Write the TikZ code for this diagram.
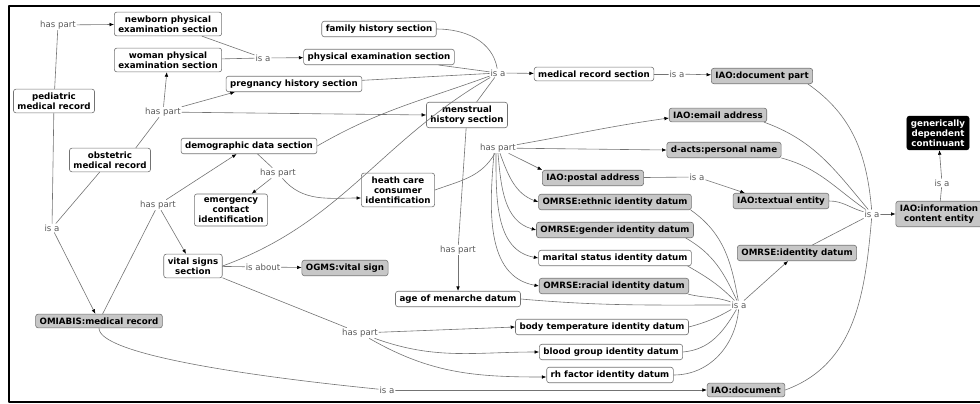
\documentclass[tikz,border=0pt]{standalone}
\usepackage{fontspec}
\setmainfont{DejaVu Sans}
\usetikzlibrary{arrows.meta}
\begin{document}
\begin{tikzpicture}[x=1pt,y=1pt,line join=round,line cap=round,>={Latex[length=4.5pt,width=3.6pt,color=black]},
	font=\fontsize{8.6}{10}\selectfont,
	cpt/.style={draw=black!55,line width=0.6pt,rounded corners=2.5pt,fill=white,font=\fontsize{8.7}{10}\selectfont\bfseries,align=center,inner xsep=4pt,inner ysep=3.5pt},
	ont/.style={cpt,fill=black!22},
	blk/.style={cpt,fill=black,draw=black,text=white},
	lnk/.style={text=black!65,inner sep=1pt},
	ln/.style={draw=black!55,line width=0.6pt}]
	\useasboundingbox (0,0) rectangle (980,-404);
	\draw[line width=2pt] (9,-6) rectangle (992,-402);
	% concepts
	\node[cpt] (ped) at (54,-101) {pediatric\\medical record};
	\node[cpt] (obs) at (110,-160) {obstetric\\medical record};
	\node[cpt] (newb) at (168,-24) {newborn physical\\examination section};
	\node[cpt] (woman) at (168,-60) {woman physical\\examination section};
	\node[cpt] (fam) at (379,-29) {family history section};
	\node[cpt] (phys) at (379,-57) {physical examination section};
	\node[cpt] (preg) at (294,-84) {pregnancy history section};
	\node[cpt] (demo) at (249,-146) {demographic data section};
	\node[cpt] (emerg) at (231,-210) {emergency\\contact\\identification};
	\node[cpt] (hcc) at (398,-190) {heath care\\consumer\\identification};
	\node[cpt] (menst) at (467,-115) {menstrual\\history section};
	\node[cpt] (mrs) at (594,-74) {medical record section};
	\node[ont] (docpart) at (762,-76) {IAO:document part};
	\node[ont] (email) at (718,-115) {IAO:email address};
	\node[ont] (pname) at (724,-150) {d-acts:personal name};
	\node[ont] (postal) at (593,-178) {IAO:postal address};
	\node[ont] (textual) at (781,-201) {IAO:textual entity};
	\node[ont] (ethnic) at (615,-202) {OMRSE:ethnic identity datum};
	\node[ont] (gender) at (615,-230) {OMRSE:gender identity datum};
	\node[cpt] (marital) at (615,-258) {marital status identity datum};
	\node[ont] (racial) at (614,-286) {OMRSE:racial identity datum};
	\node[ont] (idd) at (797,-253) {OMRSE:identity datum};
	\node[ont] (ice) at (939,-214) {IAO:information\\content entity};
	\node[blk] (gdc) at (938,-133) {generically\\dependent\\continuant};
	\node[cpt] (age) at (458,-299) {age of menarche datum};
	\node[cpt] (bodyt) at (602,-327) {body temperature identity datum};
	\node[cpt] (blood) at (611,-352) {blood group identity datum};
	\node[cpt] (rh) at (610,-375) {rh factor identity datum};
	\node[ont] (doc) at (746,-390) {IAO:document};
	\node[ont] (omiabis) at (99,-321) {OMIABIS:medical record};
	\node[cpt] (vital) at (193,-266) {vital signs\\section};
	\node[ont] (ogms) at (345,-268) {OGMS:vital sign};
	% linking phrases
	\node[lnk] (hp1) at (58,-25) {has part};
	\node[lnk] (isa1) at (263,-58) {is a};
	\node[lnk] (isa2) at (498,-73) {is a};
	\node[lnk] (isa3) at (677,-74) {is a};
	\node[lnk] (hp2) at (163,-112) {has part};
	\node[lnk] (hp3) at (498,-148) {has part};
	\node[lnk] (isa4) at (697,-177) {is a};
	\node[lnk] (isa5) at (872,-214) {is a};
	\node[lnk] (isa6) at (942,-183) {is a};
	\node[lnk] (isa7) at (739,-305) {is a};
	\node[lnk] (hp4) at (458,-250) {has part};
	\node[lnk] (isa8) at (52,-228) {is a};
	\node[lnk] (hp5) at (158,-205) {has part};
	\node[lnk] (hp6) at (278,-173) {has part};
	\node[lnk] (about) at (263,-267) {is about};
	\node[lnk] (hp7) at (360,-333) {has part};
	\node[lnk] (isa9) at (387,-390) {is a};
	% connectors
	\draw[ln] (ped) -- (hp1);
	\draw[ln,->] (hp1) -- (newb);
	\draw[ln] (newb) -- (isa1);
	\draw[ln] (woman) -- (isa1);
	\draw[ln,->] (isa1) -- (phys);
	\draw[ln] (fam.east) to[out=0,in=100] (isa2);
	\draw[ln] (phys) -- (isa2);
	\draw[ln] (preg) -- (isa2);
	\draw[ln] (demo.east) to[out=30,in=-160] (isa2);
	\draw[ln] (vital.east) to[out=20,in=-150] (isa2);
	\draw[ln] (menst) -- (isa2);
	\draw[ln,->] (isa2) -- (mrs);
	\draw[ln] (mrs) -- (isa3);
	\draw[ln,->] (isa3) -- (docpart);
	\draw[ln] ([xshift=-5pt]docpart.south east) to[out=-35,in=95] (isa5);
	\draw[ln] ([xshift=-3pt]email.south east) to[out=-20,in=130] (isa5);
	\draw[ln] (pname.south east) to[out=-15,in=145] (isa5);
	\draw[ln] (textual.east) to[out=0,in=165] (isa5);
	\draw[ln] (idd) -- (isa5);
	\draw[ln] (doc.east) to[out=20,in=-95] (isa5);
	\draw[ln,->] (isa5) -- (ice);
	\draw[ln] (ice) -- (isa6);
	\draw[ln,->] (isa6) -- (gdc);
	\draw[ln] (hcc.east) to[out=20,in=-120] (hp3);
	\draw[ln,->] (hp3) to[out=10,in=188] ([yshift=-3pt]email.west);
	\draw[ln,->] (hp3) -- (pname.west);
	\draw[ln,->] (hp3) -- (postal.north west);
	\draw[ln,->] ([xshift=2pt]hp3.south) to[out=-70,in=160] (ethnic.west);
	\draw[ln,->] (hp3.south) to[out=-85,in=165] (gender.west);
	\draw[ln,->] ([xshift=-2pt]hp3.south) to[out=-90,in=170] (marital.west);
	\draw[ln,->] ([xshift=-4pt]hp3.south) to[out=-95,in=170] (racial.west);
	\draw[ln] (postal) -- (isa4);
	\draw[ln,->] (isa4) -- ([xshift=12pt]textual.north west);
	\draw[ln] ([xshift=-1pt]ethnic.south east) to[out=-35,in=100] (isa7);
	\draw[ln] ([xshift=-8pt]gender.south east) to[out=-30,in=115] (isa7);
	\draw[ln] ([xshift=-4pt]marital.south east) to[out=-30,in=135] (isa7);
	\draw[ln] ([xshift=-1pt]racial.south east) to[out=-15,in=160] (isa7);
	\draw[ln] (age.east) to[out=-5,in=180] (isa7);
	\draw[ln] (bodyt.east) to[out=15,in=-150] (isa7);
	\draw[ln] (blood.east) to[out=5,in=-120] (isa7);
	\draw[ln] (rh.east) to[out=0,in=-95] (isa7);
	\draw[ln,->] (isa7) -- (idd);
	\draw[ln] (menst) -- (hp4);
	\draw[ln,->] (hp4) -- (age);
	\draw[ln] ([xshift=-15pt]obs.north east) -- (hp2);
	\draw[ln,->] (hp2) -- (woman);
	\draw[ln,->] (hp2) -- ([xshift=9pt]preg.south west);
	\draw[ln,->] (hp2) -- (menst.west);
	\draw[ln] (ped) -- (isa8);
	\draw[ln] (obs) -- (isa8);
	\draw[ln,->] (isa8) -- (omiabis);
	\draw[ln] (omiabis) -- (hp5);
	\draw[ln,->] (hp5) -- (demo);
	\draw[ln,->] (hp5) -- (vital);
	\draw[ln] (demo) -- (hp6);
	\draw[ln,->] (hp6) -- (emerg);
	\draw[ln,->] (hp6) to[out=-50,in=180] ([yshift=-8pt]hcc.west);
	\draw[ln] (vital) -- (about);
	\draw[ln,->] (about) -- (ogms);
	\draw[ln] (vital) -- (hp7);
	\draw[ln,->] (hp7) -- (bodyt.west);
	\draw[ln,->] (hp7) to[out=-20,in=180] (blood.west);
	\draw[ln,->] (hp7) to[out=-30,in=180] ([yshift=-2pt]rh.west);
	\draw[ln] (omiabis.south) .. controls +(0,-25) and +(-150,15) .. (isa9);
	\draw[ln,->] (isa9) -- (doc);
\end{tikzpicture}
\end{document}
